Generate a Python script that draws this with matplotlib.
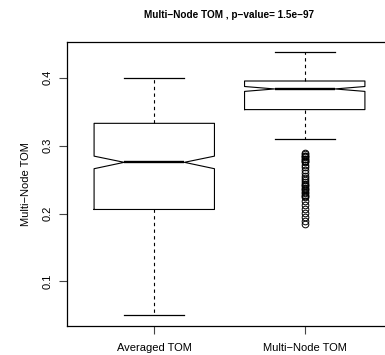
import matplotlib
matplotlib.use("Agg")
import matplotlib.pyplot as plt

plt.rcParams['font.family'] = ['Liberation Sans', 'DejaVu Sans']

labels = ["Averaged TOM", "Multi\u2212Node TOM"]
medians = [0.2754, 0.3834]
q1 = [0.2060, 0.3530]
q3 = [0.3328, 0.3951]
whis_lo = [0.0500, 0.3100]
whis_hi = [0.4000, 0.4378]
notch_lo = [0.2660, 0.3798]
notch_hi = [0.2845, 0.3870]
fliers_avg = []
fliers_multi = [0.289, 0.287, 0.285, 0.284, 0.283, 0.281, 0.280, 0.278, 0.277, 0.276,
                0.272, 0.268, 0.264, 0.260, 0.256, 0.252, 0.249,
                0.246, 0.244, 0.242, 0.240, 0.238, 0.236, 0.234, 0.232, 0.230, 0.228, 0.226, 0.224,
                0.219, 0.213, 0.207, 0.201, 0.195, 0.189, 0.185]
yticks = [0.1, 0.2, 0.3, 0.4]

stats = []
fl = [fliers_avg, fliers_multi]
for i in range(2):
    stats.append(dict(label=labels[i], med=medians[i], q1=q1[i], q3=q3[i],
                      whislo=whis_lo[i], whishi=whis_hi[i],
                      cilo=notch_lo[i], cihi=notch_hi[i], fliers=fl[i]))

fig = plt.figure(figsize=(3.85, 3.55), dpi=100)
ax = fig.add_axes([67/385, 29/355, 325/385, 284/355])

ax.bxp(stats, positions=[1, 2], widths=0.8, shownotches=True,
       boxprops=dict(color="black", linewidth=0.8),
       medianprops=dict(color="black", linewidth=1.7),
       whiskerprops=dict(color="black", linewidth=0.8, linestyle=(0, (3, 3))),
       capprops=dict(color="black", linewidth=0.9),
       flierprops=dict(marker="o", markersize=4.8, markerfacecolor="none",
                       markeredgecolor="black", markeredgewidth=0.7))

ax.set_xlim(0.42, 2.58)
ax.set_ylim(0.0345, 0.4525)
ax.set_yticks(yticks)
ax.set_yticklabels([str(v) for v in yticks], rotation=90, va="center")
ax.set_xticks([1, 2])
ax.set_xticklabels(labels)
ax.tick_params(axis="both", labelsize=8, length=5.5, width=0.8, color="#444444")
ax.tick_params(axis="y", pad=5)
ax.tick_params(axis="x", pad=7)
for s in ax.spines.values():
    s.set_linewidth(0.9)

ax.set_ylabel("Multi\u2212Node TOM", fontsize=8, labelpad=8)
fig.text(229/385, 1 - 15/355, "Multi\u2212Node TOM , p\u2212value= 1.5e\u221297",
         ha="center", va="center", fontsize=7.2, fontweight="bold")

fig.savefig("out.png", dpi=100)
